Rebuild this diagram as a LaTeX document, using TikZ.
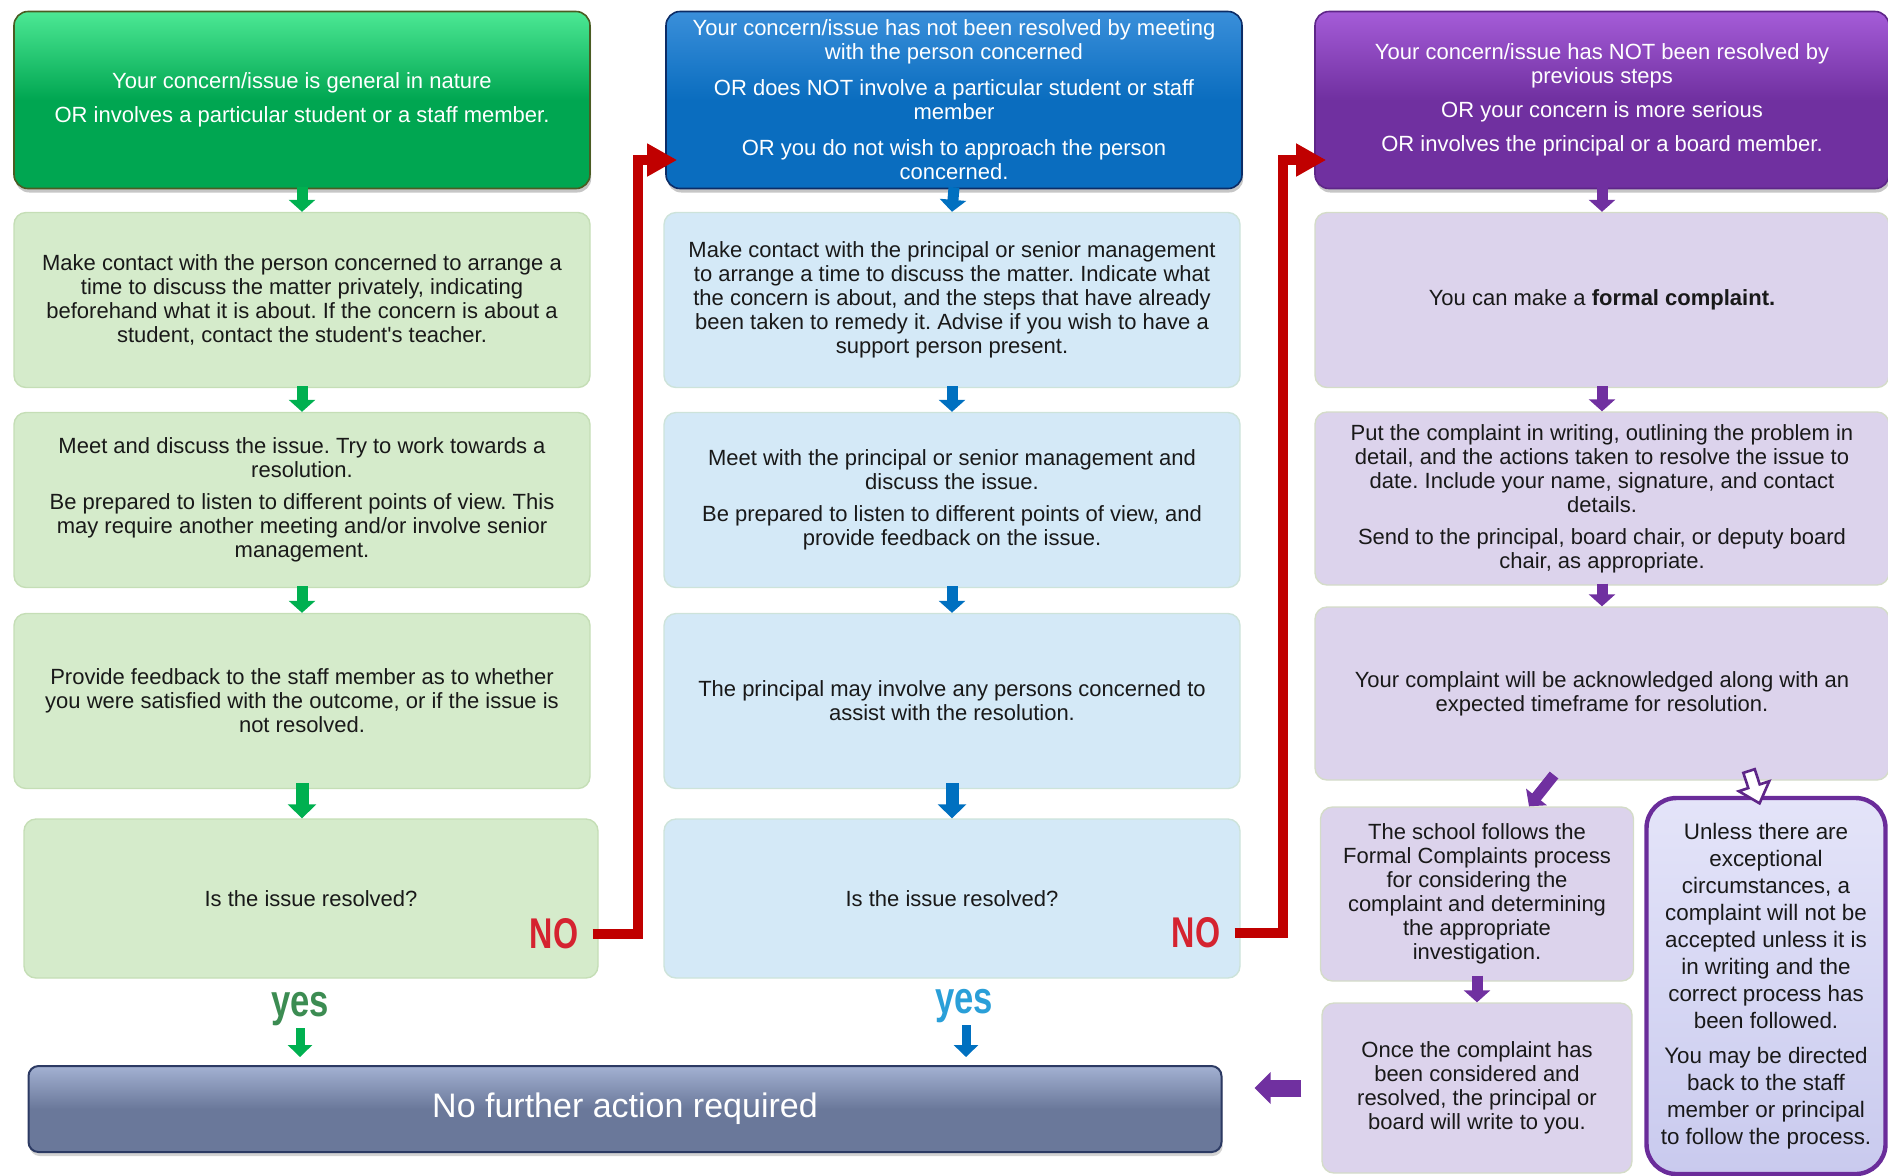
\documentclass[tikz,border=0pt]{standalone}
\usepackage{graphicx}
\usepackage{fontspec}
\setmainfont{Liberation Sans}
\usetikzlibrary{arrows.meta,shadows}
\frenchspacing

\definecolor{grhead}{HTML}{00A651}
\definecolor{grtop}{HTML}{4CE894}
\definecolor{grline}{HTML}{4A5C22}
\definecolor{grbox}{HTML}{D5EBCB}
\definecolor{gredge}{HTML}{C5DEB6}
\definecolor{grarrow}{HTML}{00B050}
\definecolor{gryes}{HTML}{3C8C52}
\definecolor{blhead}{HTML}{0A6DBF}
\definecolor{bltop}{HTML}{3A8FDA}
\definecolor{blline}{HTML}{0C2C66}
\definecolor{blbox}{HTML}{D4E9F7}
\definecolor{bledge}{HTML}{CDE3DA}
\definecolor{blarrow}{HTML}{0070C0}
\definecolor{blyes}{HTML}{2A9FD8}
\definecolor{puhead}{HTML}{7030A0}
\definecolor{putop}{HTML}{A55CD8}
\definecolor{puline}{HTML}{5E2688}
\definecolor{pubox}{HTML}{DCD3EC}
\definecolor{puedge}{HTML}{D4DCC8}
\definecolor{puarrow}{HTML}{7030A0}
\definecolor{pusidetop}{HTML}{E4E4F9}
\definecolor{puside}{HTML}{C9CAEE}
\definecolor{pusideline}{HTML}{6A2C9A}
\definecolor{nfhead}{HTML}{6A789A}
\definecolor{nftop}{HTML}{A3B1D2}
\definecolor{nfline}{HTML}{2C3A63}
\definecolor{nored}{HTML}{C00000}
\definecolor{notext}{HTML}{D52330}

\tikzset{
  headbox/.style={rounded corners=7pt, line width=0.8pt, text=white,
    minimum width=288pt, minimum height=88.5pt, align=center,
    font=\fontsize{11}{12}\selectfont,
    drop shadow={shadow xshift=0.6pt, shadow yshift=-2pt, opacity=0.45}},
  grhd/.style={headbox, draw=grline, top color=grtop, bottom color=grhead, middle color=grhead},
  blhd/.style={headbox, draw=blline, top color=bltop, bottom color=blhead, middle color=blhead},
  puhd/.style={headbox, draw=puline, top color=putop, bottom color=puhead, middle color=puhead},
  stepbox/.style={rounded corners=6pt, line width=0.7pt, text=black!90,
    minimum width=288pt, minimum height=87.5pt, align=center,
    font=\fontsize{11}{12}\selectfont},
  grstep/.style={stepbox, draw=gredge, fill=grbox},
  blstep/.style={stepbox, draw=bledge, fill=blbox},
  pustep/.style={stepbox, draw=puedge, fill=pubox},
  flow/.style={line width=5.5pt, -{Triangle[width=13pt,length=6pt]}},
  bigflow/.style={line width=6.5pt, -{Triangle[width=14pt,length=7pt]}},
  noarrow/.style={draw=nored, line width=5pt, -{Triangle[width=15.5pt,length=15pt]}},
  nolabel/.style={text=notext, font=\bfseries\fontsize{21.5}{24}\selectfont, inner sep=7pt},
  yeslabel/.style={font=\bfseries\fontsize{22.5}{24}\selectfont, inner sep=1pt},
}

\begin{document}
\begin{tikzpicture}[x=0.5pt,y=-0.5pt]
  \useasboundingbox (0,0) rectangle (1888,1175);

  %% first column
  \node[grhd] (gh) at (302,100) {Your concern/issue is general in nature\\[5pt]
    OR involves a particular student or a staff member.};
  \node[grstep] (ga) at (302,300) {Make contact with the person concerned to arrange a\\
    time to discuss the matter privately, indicating\\
    beforehand what it is about. If the concern is about a\\
    student, contact the student\textquotesingle s teacher.};
  \node[grstep] (gb) at (302,500) {Meet and discuss the issue. Try to work towards a\\
    resolution.\\[4pt]
    Be prepared to listen to different points of view. This\\
    may require another meeting and/or involve senior\\
    management.};
  \node[grstep] (gc) at (302,701) {Provide feedback to the staff member as to whether\\
    you were satisfied with the outcome, or if the issue is\\
    not resolved.};
  \node[grstep, minimum width=287pt, minimum height=79.5pt] (gd) at (311,898.5) {Is the issue resolved?};

  %% second column
  \node[blhd] (bh) at (954,100) {Your concern/issue has not been resolved by meeting\\
    with the person concerned\\[6pt]
    OR does NOT involve a particular student or staff\\
    member\\[6pt]
    OR you do not wish to approach the person\\
    concerned.};
  \node[blstep] (ba) at (952,300) {Make contact with the principal or senior management\\
    to arrange a time to discuss the matter. Indicate what\\
    the concern is about, and the steps that have already\\
    been taken to remedy it. Advise if you wish to have a\\
    support person present.};
  \node[blstep] (bb) at (952,500) {Meet with the principal or senior management and\\
    discuss the issue.\\[4pt]
    Be prepared to listen to different points of view, and\\
    provide feedback on the issue.};
  \node[blstep] (bc) at (952,701) {The principal may involve any persons concerned to\\
    assist with the resolution.};
  \node[blstep, minimum height=79.5pt] (bd) at (952,898.5) {Is the issue resolved?};

  %% third column
  \node[puhd, minimum width=287pt] (ph) at (1602,100) {Your concern/issue has NOT been resolved by\\
    previous steps\\[5pt]
    OR your concern is more serious\\[5pt]
    OR involves the principal or a board member.};
  \node[pustep, minimum width=287pt] (pa) at (1602,300) {You can make a \textbf{formal complaint.}};
  \node[pustep, minimum width=287pt, minimum height=86.5pt] (pb) at (1602,498.5) {Put the complaint in writing, outlining the problem in\\
    detail, and the actions taken to resolve the issue to\\
    date. Include your name, signature, and contact\\
    details.\\[4pt]
    Send to the principal, board chair, or deputy board\\
    chair, as appropriate.};
  \node[pustep, minimum width=287pt, minimum height=86.5pt] (pc) at (1602,693.5) {Your complaint will be acknowledged along with an\\
    expected timeframe for resolution.};
  \node[pustep, minimum width=156.5pt, minimum height=87pt] (ps) at (1477,894) {The school follows the\\
    Formal Complaints process\\
    for considering the\\
    complaint and determining\\
    the appropriate\\
    investigation.};
  \node[pustep, minimum width=155pt, minimum height=85pt] (po) at (1477,1088) {Once the complaint has\\
    been considered and\\
    resolved, the principal or\\
    board will write to you.};
  \node[stepbox, rounded corners=15pt, draw=pusideline, line width=2.2pt,
    top color=pusidetop, bottom color=puside, minimum width=119.5pt, minimum height=188pt,
    font=\fontsize{11.2}{13.5}\selectfont] (pu) at (1766,986) {Unless there are\\
    exceptional\\
    circumstances, a\\
    complaint will not be\\
    accepted unless it is\\
    in writing and the\\
    correct process has\\
    been followed.\\[4pt]
    You may be directed\\
    back to the staff\\
    member or principal\\
    to follow the process.};

  %% bottom bar
  \node[rounded corners=5pt, line width=1pt, draw=nfline, top color=nftop, bottom color=nfhead,
    middle color=nfhead, text=white, minimum width=596.5pt, minimum height=43pt,
    font=\fontsize{17}{20}\selectfont,
    drop shadow={shadow xshift=0.6pt, shadow yshift=-2pt, opacity=0.35}] (nf) at (625,1109)
    {No further action required};

  %% labels
  \node[nolabel] (nog) at (554,934) {\scalebox{0.75}[1]{NO}};
  \node[nolabel] (nob) at (1196,933) {\scalebox{0.75}[1]{NO}};
  \node[yeslabel, text=gryes] (yesg) at (300,1009) {\scalebox{0.77}[1]{yes}};
  \node[yeslabel, text=blyes] (yesb) at (964,1006) {\scalebox{0.77}[1]{yes}};

  %% down arrows
  \draw[flow, draw=grarrow] ([yshift=1pt]gh.south) -- (ga.north);
  \draw[flow, draw=grarrow] ([yshift=1pt]ga.south) -- (gb.north);
  \draw[flow, draw=grarrow] ([yshift=1pt]gb.south) -- (gc.north);
  \draw[bigflow, draw=grarrow] ([yshift=3pt]gc.south) -- (gc.south |- gd.north);
  \draw[flow, draw=blarrow] ([yshift=1pt]bh.south) -- (ba.north);
  \draw[flow, draw=blarrow] ([yshift=1pt]ba.south) -- (bb.north);
  \draw[flow, draw=blarrow] ([yshift=1pt]bb.south) -- (bc.north);
  \draw[bigflow, draw=blarrow] ([yshift=3pt]bc.south) -- (bd.north);
  \draw[flow, draw=puarrow] ([yshift=1pt]ph.south) -- (pa.north);
  \draw[flow, draw=puarrow] ([yshift=1pt]pa.south) -- (pb.north);
  \draw[flow, draw=puarrow] ([yshift=1pt]pb.south) -- (pc.north);
  \draw[flow, draw=puarrow] ([yshift=3pt]ps.south) -- (po.north);
  \coordinate (d1) at (1554,775);
  \draw[flow, draw=puarrow] (d1) -- ([xshift=26pt]ps.north);
  \coordinate (hat) at (1749,771);
  \draw[draw=puline, fill=white, line width=1.3pt, line join=miter, rotate around={18:(hat)}]
    (hat) ++(-6,0) -- ++(0,16) -- ++(-10,0) -- ++(16,18) -- ++(16,-18) -- ++(-10,0) -- ++(0,-16) -- cycle;
  \draw[bigflow, line width=8.5pt, -{Triangle[width=15.5pt,length=8pt]}, draw=puarrow]
    ([xshift=-10pt]po.west) -- ([xshift=16pt]nf.east |- po.west);

  %% yes arrows
  \draw[flow, line width=4.5pt, -{Triangle[width=12pt,length=6pt]}, draw=grarrow]
    (yesg.south) -- ([yshift=4pt]nf.north -| yesg.south);
  \draw[flow, line width=4.5pt, -{Triangle[width=12pt,length=6pt]}, draw=blarrow]
    ([xshift=1pt]yesb.south) -- ([xshift=1pt,yshift=4pt]nf.north -| yesb.south);

  %% NO connectors
  \coordinate (r1) at (638,160);
  \draw[noarrow] (nog.east) -| (r1) -- ([xshift=6pt]bh.west |- r1);
  \coordinate (r2) at (1283,160);
  \draw[noarrow] (nob.east) -| (r2) -- ([xshift=6pt]ph.west |- r2);
\end{tikzpicture}
\end{document}
